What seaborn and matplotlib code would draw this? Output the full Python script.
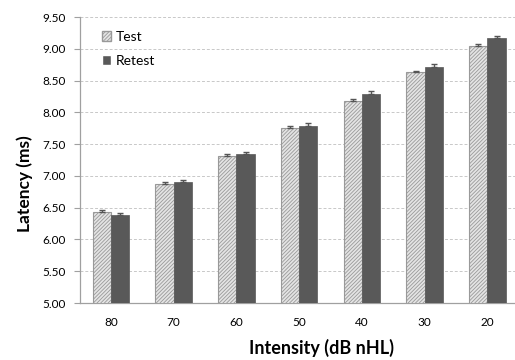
import pandas as pd
import numpy as np
import matplotlib
matplotlib.use("Agg")
import matplotlib.pyplot as plt
import seaborn as sns

# ── Data ─────────────────────────────────────────────────────────────────────

intensities = ["80", "70", "60", "50", "40", "30", "20"]
test_latency = [6.44, 6.87, 7.31, 7.76, 8.18, 8.63, 9.05]
retest_latency = [6.39, 6.90, 7.35, 7.79, 8.29, 8.715, 9.17]
test_err = [0.03, 0.03, 0.03, 0.02, 0.03, 0.03, 0.03]
retest_err = [0.02, 0.03, 0.03, 0.04, 0.04, 0.04, 0.04]
sessions = ["Test", "Retest"]

df = pd.DataFrame({
    "intensity": intensities * 2,
    "latency": test_latency + retest_latency,
    "session": ["Test"] * len(intensities) + ["Retest"] * len(intensities),
})

# ── Plot ─────────────────────────────────────────────────────────────────────

sns.set_style("white")
plt.rcParams["font.family"] = ["Lato", "DejaVu Sans"]
plt.rcParams["hatch.linewidth"] = 0.6
plt.rcParams["text.color"] = "black"
plt.rcParams["axes.labelcolor"] = "black"
plt.rcParams["xtick.color"] = "black"
plt.rcParams["ytick.color"] = "black"

fig = plt.figure(figsize=(5.15, 3.6), dpi=100)
ax = fig.add_axes([0.1544, 0.1583, 0.853, 0.794])

sns.barplot(data=df, x="intensity", y="latency", hue="session",
            order=intensities, hue_order=sessions,
            palette={"Test": "#e4e4e4", "Retest": "#595959"},
            width=0.58, gap=0.0, errorbar=None, ax=ax, zorder=3)

errs = [test_err, retest_err]
bar_conts = list(ax.containers)
for i, cont in enumerate(bar_conts):
    xs, hs = [], []
    for bar in cont:
        xs.append(bar.get_x() + bar.get_width() / 2)
        hs.append(bar.get_height())
        if i == 0:
            bar.set_hatch("/////////")
            bar.set_edgecolor("#999999")
            bar.set_linewidth(0.8)
        else:
            bar.set_edgecolor("#595959")
            bar.set_linewidth(0.5)
    e = np.array(errs[i])
    ax.errorbar(xs, hs, yerr=[np.zeros_like(e), e], fmt="none",
                ecolor="#555555", elinewidth=1.0, capsize=2.5, capthick=1.0,
                zorder=4)

ax.set_ylim(5.0, 9.5)
ax.set_yticks(np.arange(5.0, 9.51, 0.5))
ax.set_yticklabels([f"{v:.2f}" for v in np.arange(5.0, 9.51, 0.5)], fontsize=8.5)
ax.set_xlim(-0.5, len(intensities) - 0.5)
ax.tick_params(axis="x", length=0, labelsize=8.5, pad=10)
ax.tick_params(axis="y", length=4, width=0.8, color="#a0a0a0", left=True, pad=6)

ax.yaxis.grid(True, linestyle=(0, (3, 2)), color="#c8c8c8", linewidth=0.7, zorder=0)
ax.set_axisbelow(True)

for s in ["top", "right"]:
    ax.spines[s].set_visible(False)
for s in ["left", "bottom"]:
    ax.spines[s].set_color("#a0a0a0")
    ax.spines[s].set_linewidth(0.9)

ax.set_xlabel("Intensity (dB nHL)", fontsize=13, fontweight="bold")
ax.set_ylabel("Latency (ms)", fontsize=12.5, fontweight="bold")
ax.xaxis.set_label_coords(0.55, -0.125)
ax.yaxis.set_label_coords(-0.105, 0.416)

handles, labels = ax.get_legend_handles_labels()
handles[0].set_hatch("/////////")
handles[0].set_edgecolor("#999999")
ax.legend(handles, labels, loc="upper left", bbox_to_anchor=(0.022, 0.995),
          frameon=False, fontsize=10, handlelength=0.7, handleheight=0.7,
          handletextpad=0.3, labelspacing=0.85)

plt.savefig("out.png", dpi=100)
plt.close()
